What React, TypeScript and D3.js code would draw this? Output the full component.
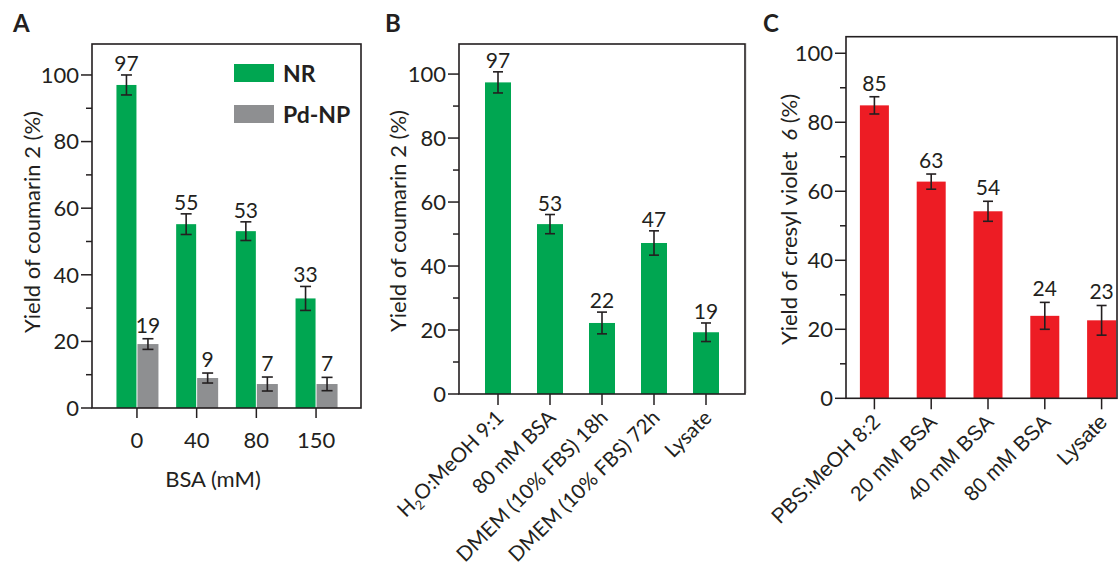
import * as d3 from "d3";

const FONT = "Lato, 'Open Sans', sans-serif";
const INK = "#231F20";
const GREEN = "#00A651";
const GRAY = "#8E8F91";
const RED = "#ED1C24";

// panel A
const bsaLevels = ["0", "40", "80", "150"];
const nrYield = [97, 55.2, 53.1, 32.9];
const nrErr = [3, 3.1, 2.8, 3.6];
const pdYield = [19.2, 9, 7.2, 7.2];
const pdErr = [1.6, 1.5, 2.1, 2];

// panel B
const mediaB = ["H2O:MeOH 9:1", "80 mM BSA", "DMEM (10% FBS) 18h", "DMEM (10% FBS) 72h", "Lysate"];
const yieldB = [97.4, 53.1, 22.2, 47.2, 19.3];
const errB = [3.3, 3, 3.4, 3.8, 2.9];

// panel C
const mediaC = ["PBS:MeOH 8:2", "20 mM BSA", "40 mM BSA", "80 mM BSA", "Lysate"];
const yieldC = [84.9, 62.8, 54.2, 23.9, 22.6];
const errC = [2.5, 2.2, 2.9, 3.9, 4.3];

const yTicks = d3.range(0, 101, 10);

type Frame = { left: number; right: number; top: number; bottom: number; yMax: number; bandEnd?: number };

const YAxis = ({ f, y }: { f: Frame; y: d3.ScaleLinear<number, number> }) => (
  <g>
    {yTicks.map((t) => {
      const major = t % 20 === 0;
      return (
        <g key={t}>
          <line x1={f.left - (major ? 11 : 6)} x2={f.left} y1={y(t)} y2={y(t)} stroke={INK} strokeWidth={1.5} />
          {major && (
            <text x={f.left - 13} y={y(t)} dy="0.36em" textAnchor="end" fontSize={22} fill={INK}>
              {t}
            </text>
          )}
        </g>
      );
    })}
  </g>
);

const FrameBox = ({ f }: { f: Frame }) => (
  <rect x={f.left} y={f.top} width={f.right - f.left} height={f.bottom - f.top} fill="none" stroke={INK} strokeWidth={1.6} />
);

const ErrorBar = ({ cx, y, v, e, label, gap, cap }: any) => (
  <g stroke={INK} strokeWidth={1.6}>
    <line x1={cx} x2={cx} y1={y(v + e)} y2={y(v - e)} />
    <line x1={cx - cap / 2} x2={cx + cap / 2} y1={y(v + e)} y2={y(v + e)} />
    <line x1={cx - cap / 2} x2={cx + cap / 2} y1={y(v - e)} y2={y(v - e)} />
    <text x={cx} y={y(v + e) - gap} textAnchor="middle" fontSize={21} fill={INK} stroke="none">
      {label}
    </text>
  </g>
);

const PanelA = () => {
  const f: Frame = { left: 92, right: 361, top: 44, bottom: 408, yMax: 109.3 };
  const y = d3.scaleLinear().domain([0, f.yMax]).range([f.bottom, f.top]);
  const x = d3.scaleBand().domain(bsaLevels).range([f.left, f.right]).paddingInner(0).paddingOuter(0.253);
  const bw = 20;
  return (
    <g>
      <text x={13} y={32} fontSize={24} fontWeight="bold" fill={INK}>A</text>
      {bsaLevels.map((k, i) => {
        const c = (x(k) ?? 0) + x.bandwidth() / 2;
        return (
          <g key={k}>
            <rect x={c - bw - 0.5} y={y(nrYield[i])} width={bw} height={f.bottom - y(nrYield[i])} fill={GREEN} />
            <rect x={c + 0.5} y={y(pdYield[i])} width={bw + 1} height={f.bottom - y(pdYield[i])} fill={GRAY} />
            <ErrorBar cx={c - bw / 2 - 0.5} y={y} v={nrYield[i]} e={nrErr[i]} label={Math.round(nrYield[i])} gap={4} cap={11} />
            <ErrorBar cx={c + bw / 2 + 1} y={y} v={pdYield[i]} e={pdErr[i]} label={Math.round(pdYield[i])} gap={6} cap={11} />
            <line x1={c} x2={c} y1={f.bottom} y2={f.bottom + 10} stroke={INK} strokeWidth={1.5} />
            <text x={c} y={f.bottom + 40} textAnchor="middle" fontSize={22} fill={INK}>{k}</text>
          </g>
        );
      })}
      <FrameBox f={f} />
      <YAxis f={f} y={y} />
      <text x={213} y={487} textAnchor="middle" fontSize={22} fill={INK}>BSA (mM)</text>
      <text transform={`translate(40,${(f.top + f.bottom) / 2 - 4}) rotate(-90)`} textAnchor="middle" fontSize={22} fill={INK}>
        Yield of coumarin 2 (%)
      </text>
      <rect x={234} y={64} width={40} height={18} fill={GREEN} />
      <rect x={234} y={105} width={40} height={18} fill={GRAY} />
      <text x={283} y={82} fontSize={23} fontWeight="bold" fill={INK}>NR</text>
      <text x={283} y={123} fontSize={23} fontWeight="bold" fill={INK}>Pd-NP</text>
    </g>
  );
};

const BarPanel = ({ f, cats, vals, errs, color, bw, letter, letterX, titleX, title, outer, gap, labelFont, labelSize }: any) => {
  const y = d3.scaleLinear().domain([0, f.yMax]).range([f.bottom, f.top]);
  const x = d3.scaleBand().domain(cats).range([f.left, f.bandEnd ?? f.right]).paddingInner(0).paddingOuter(outer);
  return (
    <g>
      <text x={letterX} y={32} fontSize={24} fontWeight="bold" fill={INK}>{letter}</text>
      {cats.map((k: string, i: number) => {
        const c = (x(k) ?? 0) + x.bandwidth() / 2;
        return (
          <g key={k}>
            <rect x={c - bw / 2} y={y(vals[i])} width={bw} height={f.bottom - y(vals[i])} fill={color} />
            <ErrorBar cx={c} y={y} v={vals[i]} e={errs[i]} label={Math.round(vals[i])} gap={gap} cap={10} />
            <line x1={c} x2={c} y1={f.bottom} y2={f.bottom + 11} stroke={INK} strokeWidth={1.5} />
            <text
              transform={`translate(${c + 7},${f.bottom + 25}) rotate(-45)`}
              textAnchor="end"
              fontSize={labelSize}
              fontFamily={labelFont}
              fill={INK}
            >
              {k.startsWith("H2O") ? (
                <>
                  H<tspan fontSize={13} dy={5}>2</tspan>
                  <tspan dy={-5}>O:MeOH 9:1</tspan>
                </>
              ) : (
                k
              )}
            </text>
          </g>
        );
      })}
      <FrameBox f={f} />
      <YAxis f={f} y={y} />
      <text transform={`translate(${titleX},${(f.top + f.bottom) / 2 + 2}) rotate(-90)`} textAnchor="middle" fontSize={22} fill={INK}>
        {title}
      </text>
    </g>
  );
};

export default function App() {
  const fB: Frame = { left: 459, right: 745, top: 44, bottom: 394, yMax: 109.4 };
  const fC: Frame = { left: 846, right: 1117, top: 36.7, bottom: 398.3, yMax: 104.8, bandEnd: 1130 };
  return (
    <svg width={1119} height={570} style={{ position: "absolute", left: 0, top: 0, background: "#fff" }} fontFamily={FONT}>
      <PanelA />
      <BarPanel
        f={fB}
        cats={mediaB}
        vals={yieldB}
        errs={errB}
        color={GREEN}
        bw={26}
        letter="B"
        letterX={385}
        titleX={406}
        title="Yield of coumarin 2 (%)"
        outer={0.25}
        gap={4}
        labelFont={FONT}
        labelSize={20.5}
      />
      <line x1={746.5} x2={746.5} y1={43} y2={393} stroke="#e4e4e4" strokeWidth={1} />
      <BarPanel
        f={fC}
        cats={mediaC}
        vals={yieldC}
        errs={errC}
        color={RED}
        bw={29}
        letter="C"
        letterX={763}
        titleX={797}
        title={
          <>
            Yield of cresyl violet<tspan dx={11} fontStyle="italic">6</tspan> (%)
          </>
        }
        outer={0}
        gap={6}
        labelFont="'Liberation Sans', Arial, sans-serif"
        labelSize={21}
      />
    </svg>
  );
}
